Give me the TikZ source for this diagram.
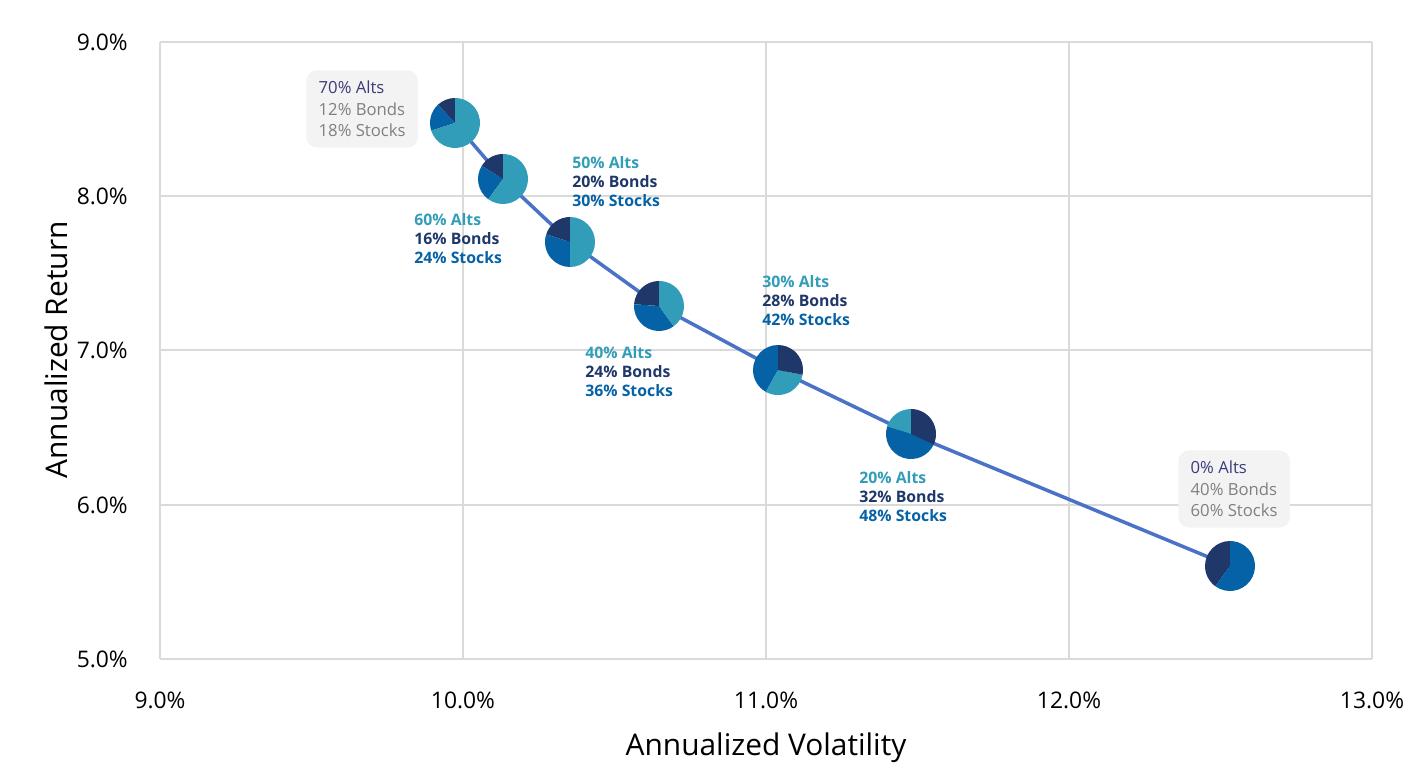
\documentclass[tikz,border=0pt]{standalone}
\usepackage{fontspec}
\setmainfont{Open Sans}
\usepackage{tikz}
\usetikzlibrary{positioning}
\definecolor{alts}{HTML}{319DB8}
\definecolor{stocks}{HTML}{0562A6}
\definecolor{bonds}{HTML}{1F3769}
\definecolor{curve}{HTML}{4A72C6}
\definecolor{gridgray}{HTML}{DADADA}
\definecolor{boxgray}{HTML}{F3F3F3}
\definecolor{labgray}{HTML}{808080}
\definecolor{altnavy}{HTML}{3B3B7C}
\tikzset{
  gridline/.style={gridgray, line width=1.2pt},
  ticklabel/.style={font=\fontsize{13}{15}\selectfont, text=black},
  axistitle/.style={font=\fontsize{17}{20}\selectfont, text=black},
  mixlabel/.style={align=left, anchor=north west, inner sep=0pt, font=\fontsize{9}{10.8}\selectfont\bfseries},
  mixbox/.style={align=left, anchor=north west, fill=boxgray, rounded corners=6pt, inner xsep=7pt, inner ysep=6pt, font=\fontsize{9.5}{12.3}\selectfont},
  pie/.style={circle, minimum size=1cm, inner sep=0pt},
}
% slice from angle #2 to #3 (counterclockwise) in colour #4 around node #1
\newcommand{\slice}[4]{\fill[#4] (#1.center) -- ++(#2:0.5cm) arc[start angle=#2, end angle=#3, radius=0.5cm] -- cycle;}
\begin{document}
\begin{tikzpicture}[x=0.02cm, y=-0.02cm]
  \useasboundingbox (0,0) rectangle (1425,777);

  % grid
  \foreach \gx in {160,463,766,1069,1372} \draw[gridline] (\gx,42) -- (\gx,659);
  \foreach \gy in {42,196,350,505,659} \draw[gridline] (160,\gy) -- (1372,\gy);

  % tick labels
  \foreach \gy/\lab in {42/9.0,196/8.0,350/7.0,505/6.0,659/5.0}
    \node[ticklabel, anchor=east] at (134,\gy) {\lab\%};
  \foreach \gx/\lab in {160/9.0,463/10.0,766/11.0,1069/12.0,1372/13.0}
    \node[ticklabel] at (\gx,700) {\lab\%};

  % axis titles
  \node[axistitle] (xtitle) at (766,748) {Annualized Volatility};
  \node[axistitle, rotate=90] (ytitle) at (56,350) {Annualized Return};

  % portfolios
  \node[pie] (p70) at (455,123) {};
  \node[pie] (p60) at (503,179) {};
  \node[pie] (p50) at (570,242) {};
  \node[pie] (p40) at (659,306) {};
  \node[pie] (p30) at (778,370) {};
  \node[pie] (p20) at (911,434) {};
  \node[pie] (p0) at (1230,566) {};

  % frontier
  \draw[curve, line width=2pt] (p70.center) -- (p60.center) -- (p50.center) -- (p40.center)
    -- (p30.center) -- (p20.center) -- (p0.center);

  % pies
  \slice{p70}{90}{133}{bonds} \slice{p70}{133}{198}{stocks} \slice{p70}{198}{450}{alts}
  \slice{p60}{90}{148}{bonds} \slice{p60}{148}{234}{stocks} \slice{p60}{234}{450}{alts}
  \slice{p50}{90}{162}{bonds} \slice{p50}{162}{270}{stocks} \slice{p50}{270}{450}{alts}
  \slice{p40}{90}{176}{bonds} \slice{p40}{176}{306}{stocks} \slice{p40}{306}{450}{alts}
  \slice{p30}{90}{241}{stocks} \slice{p30}{241}{349}{alts} \slice{p30}{349}{450}{bonds}
  \slice{p20}{90}{162}{alts} \slice{p20}{162}{335}{stocks} \slice{p20}{335}{450}{bonds}
  \slice{p0}{90}{234}{bonds} \slice{p0}{234}{450}{stocks}

  % labels
  \node[mixbox] (l70) at (306,70) {\textcolor{altnavy}{70\% Alts}\\\textcolor{labgray}{12\% Bonds}\\\textcolor{labgray}{18\% Stocks}};
  \node[mixbox] (l0) at (1178,450) {\textcolor{altnavy}{0\% Alts}\\\textcolor{labgray}{40\% Bonds}\\\textcolor{labgray}{60\% Stocks}};
  \node[mixlabel] (l50) at (572,156) {\textcolor{alts}{50\% Alts}\\\textcolor{bonds}{20\% Bonds}\\\textcolor{stocks}{30\% Stocks}};
  \node[mixlabel] (l60) at (414,213) {\textcolor{alts}{60\% Alts}\\\textcolor{bonds}{16\% Bonds}\\\textcolor{stocks}{24\% Stocks}};
  \node[mixlabel] (l40) at (585,346) {\textcolor{alts}{40\% Alts}\\\textcolor{bonds}{24\% Bonds}\\\textcolor{stocks}{36\% Stocks}};
  \node[mixlabel] (l30) at (762,275) {\textcolor{alts}{30\% Alts}\\\textcolor{bonds}{28\% Bonds}\\\textcolor{stocks}{42\% Stocks}};
  \node[mixlabel] (l20) at (859,471) {\textcolor{alts}{20\% Alts}\\\textcolor{bonds}{32\% Bonds}\\\textcolor{stocks}{48\% Stocks}};
\end{tikzpicture}
\end{document}
